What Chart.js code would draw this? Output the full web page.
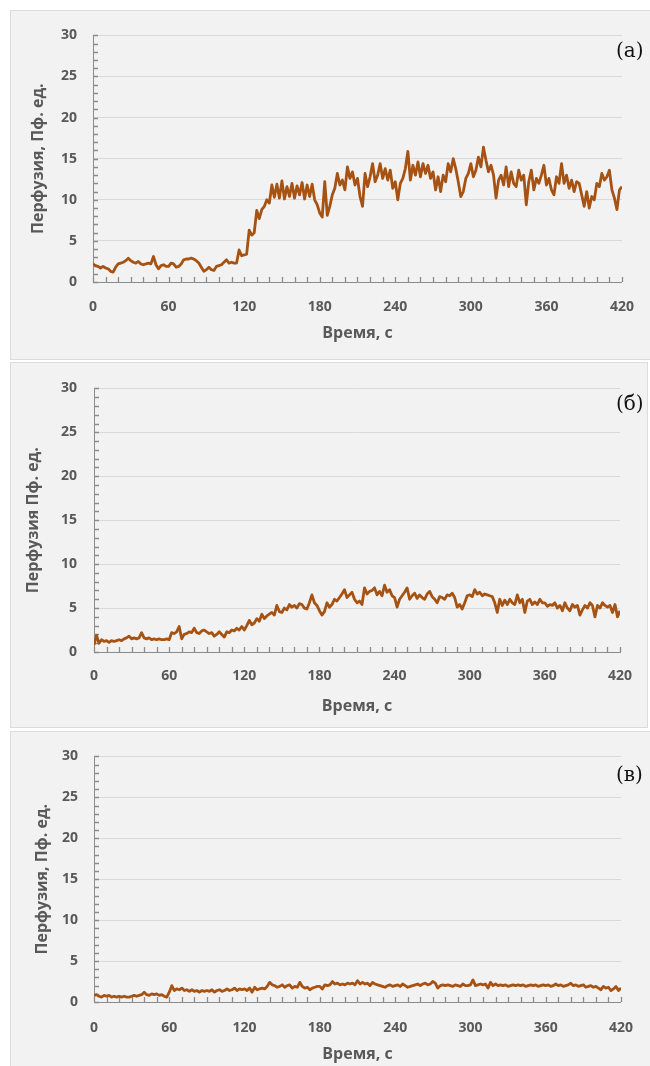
<!DOCTYPE html>
<html>
<head>
<meta charset="utf-8">
<script src="https://cdn.jsdelivr.net/npm/chart.js@4.4.1/dist/chart.umd.min.js"></script>
<style>
  body { margin: 0; background: #fff; width: 650px; height: 1066px; overflow: hidden; position: relative; }
  .panel { position: absolute; background: #f2f2f2; border: 1px solid #dcdcdc; box-sizing: border-box; }
  .panel canvas { position: absolute; left: 0; top: 0; }
  .tag { position: absolute; font-family: "DejaVu Serif", serif; font-size: 20px; line-height: 20px; color: #111; }
</style>
</head>
<body>
<div class="panel" style="left:10px;top:10px;width:642px;height:350px"><canvas id="ca" width="640" height="350"></canvas></div>
<div class="panel" style="left:10px;top:362px;width:638px;height:366px"><canvas id="cb" width="638" height="366"></canvas></div>
<div class="panel" style="left:10px;top:731px;width:642px;height:340px"><canvas id="cc" width="640" height="340"></canvas></div>
<span class="tag" style="left:616px;top:40px">(а)</span>
<span class="tag" style="left:616px;top:393px">(б)</span>
<span class="tag" style="left:616px;top:764px">(в)</span>
<script>
// time, s (one sample every 2 s)
const timeSec = [
  0, 2, 4, 6, 8, 10, 12, 14, 16, 18, 20, 22, 24, 26, 28, 30, 32, 34, 36, 38,
  40, 42, 44, 46, 48, 50, 52, 54, 56, 58, 60, 62, 64, 66, 68, 70, 72, 74, 76, 78,
  80, 82, 84, 86, 88, 90, 92, 94, 96, 98, 100, 102, 104, 106, 108, 110, 112, 114, 116, 118,
  120, 122, 124, 126, 128, 130, 132, 134, 136, 138, 140, 142, 144, 146, 148, 150, 152, 154, 156, 158,
  160, 162, 164, 166, 168, 170, 172, 174, 176, 178, 180, 182, 184, 186, 188, 190, 192, 194, 196, 198,
  200, 202, 204, 206, 208, 210, 212, 214, 216, 218, 220, 222, 224, 226, 228, 230, 232, 234, 236, 238,
  240, 242, 244, 246, 248, 250, 252, 254, 256, 258, 260, 262, 264, 266, 268, 270, 272, 274, 276, 278,
  280, 282, 284, 286, 288, 290, 292, 294, 296, 298, 300, 302, 304, 306, 308, 310, 312, 314, 316, 318,
  320, 322, 324, 326, 328, 330, 332, 334, 336, 338, 340, 342, 344, 346, 348, 350, 352, 354, 356, 358,
  360, 362, 364, 366, 368, 370, 372, 374, 376, 378, 380, 382, 384, 386, 388, 390, 392, 394, 396, 398,
  400, 402, 404, 406, 408, 410, 412, 414, 416, 418, 420
];

// perfusion, PU  (а)
const perfA = [
  2.2, 2.0, 1.9, 1.7, 1.9, 1.7, 1.6, 1.3, 1.2, 1.8,
  2.2, 2.3, 2.4, 2.6, 2.9, 2.6, 2.4, 2.3, 2.5, 2.2,
  2.1, 2.2, 2.3, 2.2, 3.1, 2.1, 1.6, 2.0, 2.1, 1.9,
  1.9, 2.3, 2.2, 1.8, 1.9, 2.2, 2.7, 2.8, 2.8, 2.9,
  2.8, 2.6, 2.3, 1.8, 1.3, 1.5, 1.8, 1.5, 1.4, 1.9,
  2.0, 2.1, 2.4, 2.7, 2.3, 2.4, 2.3, 2.3, 3.9, 3.2,
  3.3, 3.4, 6.3, 5.7, 6.0, 8.7, 7.7, 8.8, 9.2, 10.0,
  9.6, 11.8, 10.3, 11.9, 10.2, 12.3, 10.1, 11.6, 10.4, 12.0,
  10.2, 11.7, 10.6, 12.1, 10.1, 11.8, 10.4, 11.9, 10.0, 9.4,
  8.4, 7.9, 12.2, 8.1, 9.2, 10.6, 11.4, 13.2, 11.8, 12.4,
  11.2, 14.0, 12.6, 13.4, 11.8, 12.6, 10.4, 9.2, 13.2, 11.6,
  12.8, 14.4, 12.2, 13.0, 14.4, 12.6, 13.8, 12.4, 13.6, 11.4,
  12.2, 10.0, 12.0, 12.6, 13.8, 15.9, 12.4, 14.2, 13.0, 14.6,
  12.8, 14.4, 13.2, 14.2, 12.6, 13.4, 11.2, 12.8, 11.0, 13.0,
  12.2, 14.4, 13.4, 15.0, 13.8, 12.2, 10.4, 11.0, 12.6, 13.2,
  14.4, 12.8, 13.6, 15.2, 14.0, 16.4, 14.8, 13.4, 14.2, 13.0,
  10.2, 12.4, 13.0, 11.8, 14.0, 11.6, 13.4, 12.0, 11.6, 13.6,
  12.4, 13.0, 9.4, 12.2, 13.6, 11.2, 12.6, 12.0, 13.0, 14.2,
  11.8, 12.6, 11.2, 10.6, 12.8, 12.0, 14.4, 12.0, 13.0, 11.4,
  12.4, 11.0, 12.2, 12.0, 10.6, 9.2, 11.0, 9.0, 10.4, 10.0,
  12.0, 11.6, 13.2, 12.4, 12.8, 13.6, 11.2, 10.2, 8.8, 11.2,
  11.6
];
// (б)
const perfB = [
  0.8, 1.9, 1.0, 1.4, 1.2, 1.3, 1.1, 1.3, 1.2, 1.3,
  1.4, 1.3, 1.5, 1.6, 1.8, 1.5, 1.6, 1.5, 1.6, 2.2,
  1.6, 1.5, 1.6, 1.4, 1.5, 1.4, 1.5, 1.4, 1.4, 1.5,
  1.4, 2.2, 2.1, 2.3, 2.9, 1.5, 2.0, 2.1, 2.3, 2.2,
  2.7, 2.2, 2.1, 2.4, 2.5, 2.3, 2.1, 2.2, 1.8, 2.0,
  2.3, 2.0, 1.7, 2.3, 2.2, 2.5, 2.4, 2.7, 2.5, 2.9,
  2.5, 3.0, 3.6, 3.1, 3.3, 3.8, 3.5, 4.3, 3.8, 4.1,
  4.3, 4.5, 4.2, 5.3, 4.6, 4.5, 5.0, 4.8, 5.4, 5.1,
  5.3, 5.0, 5.5, 5.4, 5.0, 4.9, 5.6, 6.5, 5.6, 5.3,
  4.7, 4.2, 4.6, 5.6, 5.1, 5.4, 6.0, 5.8, 6.2, 6.6,
  7.1, 6.2, 6.5, 6.8, 6.0, 5.6, 5.8, 5.4, 7.3, 6.6,
  6.9, 7.0, 7.3, 6.5, 6.9, 6.4, 7.6, 6.8, 7.1, 6.4,
  6.2, 5.1, 6.0, 6.4, 6.8, 7.3, 6.0, 6.4, 6.7, 6.1,
  6.5, 6.2, 6.0, 6.6, 6.9, 6.3, 6.0, 5.6, 6.3, 6.2,
  6.0, 6.5, 6.4, 6.7, 6.2, 5.1, 5.4, 4.9, 5.6, 6.4,
  6.5, 6.3, 7.1, 6.6, 6.8, 6.4, 6.6, 6.5, 6.4, 6.3,
  5.6, 4.5, 6.0, 5.3, 5.9, 5.4, 6.0, 5.6, 5.4, 6.5,
  5.6, 6.0, 4.5, 5.8, 6.0, 5.4, 5.7, 5.4, 6.0, 5.6,
  5.6, 5.2, 5.4, 5.3, 5.6, 5.0, 5.3, 4.7, 5.6, 5.0,
  4.7, 5.4, 5.1, 5.3, 4.2, 4.8, 5.3, 5.0, 5.6, 5.3,
  4.0, 5.3, 5.0, 5.6, 5.3, 5.1, 5.3, 4.5, 5.4, 4.0,
  4.7
];
// (в)
const perfC = [
  0.8, 0.9, 0.7, 0.6, 0.8, 0.7, 0.8, 0.6, 0.7, 0.6,
  0.7, 0.6, 0.7, 0.6, 0.6, 0.7, 0.8, 0.7, 0.8, 0.9,
  1.2, 0.9, 0.8, 1.0, 0.9, 1.0, 0.8, 0.9, 0.7, 0.6,
  1.2, 2.0, 1.4, 1.6, 1.5, 1.7, 1.4, 1.5, 1.3, 1.5,
  1.3, 1.4, 1.2, 1.4, 1.3, 1.4, 1.3, 1.5, 1.2, 1.4,
  1.5, 1.3, 1.4, 1.6, 1.4, 1.5, 1.7, 1.4, 1.6, 1.5,
  1.6, 1.4, 1.7, 1.2, 1.8, 1.5, 1.6, 1.7, 1.6, 1.9,
  2.4, 2.1, 2.0, 1.8, 1.9, 2.1, 1.8, 2.0, 2.1, 1.7,
  1.9, 1.8, 2.4, 1.9, 1.7, 1.8, 1.5, 1.7, 1.8, 1.9,
  1.9, 1.6, 2.1, 2.0, 2.1, 2.5, 2.2, 2.3, 2.1, 2.2,
  2.1, 2.3, 2.2, 2.3, 2.1, 2.6, 2.2, 2.4, 2.2, 2.3,
  2.0, 2.4, 2.2, 2.1, 2.0, 1.9, 1.8, 2.0, 2.1, 1.9,
  2.0, 2.1, 1.9, 2.2, 2.0, 1.8, 1.9, 2.0, 2.1, 2.2,
  2.0, 2.2, 2.3, 2.1, 2.2, 2.5, 2.3, 1.7, 2.0, 2.1,
  2.0, 2.1, 2.0, 1.9, 2.1, 2.0, 1.9, 2.2, 2.0, 2.0,
  2.1, 2.7, 2.0, 2.1, 2.2, 2.1, 2.2, 1.7, 2.4, 2.0,
  2.2, 2.0, 2.1, 2.0, 2.1, 1.9, 2.0, 2.1, 2.0, 2.1,
  2.0, 2.1, 1.9, 2.0, 2.1, 2.0, 2.1, 1.9, 2.0, 2.1,
  2.0, 2.1, 1.9, 2.0, 2.2, 2.0, 2.1, 1.9, 2.0, 2.1,
  2.3, 2.0, 2.1, 1.9, 2.0, 2.1, 1.8, 1.9, 2.0, 1.8,
  1.9, 1.7, 1.5, 1.9, 1.7, 1.8, 1.4, 1.6, 1.9, 1.4,
  1.7
];

// minor tick positions (s and perfusion units)
const xMinorTicks = [
  0, 10, 20, 30, 40, 50, 60, 70, 80, 90, 100, 110, 120, 130, 140, 150, 160, 170, 180, 190, 200,
  210, 220, 230, 240, 250, 260, 270, 280, 290, 300, 310, 320, 330, 340, 350, 360, 370, 380, 390, 400, 410, 420
];
const yMinorTicks = [
  0, 1, 2, 3, 4, 5, 6, 7, 8, 9, 10, 11, 12, 13, 14, 15, 16, 17, 18, 19, 20,
  21, 22, 23, 24, 25, 26, 27, 28, 29, 30
];

const xTitle = "Время, с";
const lineColor = "#a65212";
const labelColor = "#595959";
const axisColor = "#8c8c8c";
const tickFont = { family: "'Open Sans', sans-serif", size: 14, weight: "bold" };
const titleFont = { family: "'Open Sans', sans-serif", size: 16, weight: "bold" };

// short tick marks pointing into the plot
const innerTicks = {
  id: "innerTicks",
  beforeDatasetsDraw(chart) {
    const { ctx, chartArea } = chart;
    const xs = chart.scales.x;
    const ys = chart.scales.y;
    ctx.save();
    ctx.strokeStyle = axisColor;
    ctx.lineWidth = 1.3;
    ctx.beginPath();
    xMinorTicks.forEach((v) => {
      const px = Math.round(xs.getPixelForValue(v)) + 0.5;
      ctx.moveTo(px, chartArea.bottom);
      ctx.lineTo(px, chartArea.bottom - 5);
    });
    yMinorTicks.forEach((v) => {
      const py = Math.round(ys.getPixelForValue(v)) + 0.5;
      ctx.moveTo(chartArea.left, py);
      ctx.lineTo(chartArea.left + 5, py);
    });
    ctx.stroke();
    ctx.restore();
  },
};

const drawPanel = ({ canvasId, values, yTitle, geo }) => {
  const points = timeSec.map((t, i) => ({ x: t, y: values[i] }));

  return new Chart(document.getElementById(canvasId), {
    type: "line",
    data: {
      datasets: [
        {
          data: points,
          borderColor: lineColor,
          borderWidth: 2.8,
          pointRadius: 0,
          tension: 0,
          borderJoinStyle: "round",
        },
      ],
    },
    options: {
      responsive: false,
      animation: false,
      devicePixelRatio: 1,
      layout: { padding: { left: 0, top: geo.top, right: geo.right, bottom: 0 } },
      plugins: { legend: { display: false }, tooltip: { enabled: false } },
      scales: {
        x: {
          type: "linear",
          min: 0,
          max: 420,
          afterFit: (scale) => { scale.height = geo.xHeight; },
          ticks: {
            stepSize: 60,
            autoSkip: false,
            maxRotation: 0,
            padding: geo.xPad,
            color: labelColor,
            font: tickFont,
          },
          grid: { drawOnChartArea: false, drawTicks: false },
          border: { color: axisColor },
          title: {
            display: true,
            text: xTitle,
            color: labelColor,
            font: titleFont,
            padding: { top: 0, bottom: geo.xTitlePad },
          },
        },
        y: {
          min: 0,
          max: 30,
          afterFit: (scale) => { scale.width = geo.yWidth; },
          ticks: {
            stepSize: 5,
            padding: geo.yPad,
            color: labelColor,
            font: tickFont,
          },
          grid: {
            drawTicks: false,
            color: (ctx) => (ctx.tick && ctx.tick.value !== 0 ? "#d9d9d9" : "rgba(0,0,0,0)"),
          },
          border: { color: axisColor },
          title: {
            display: true,
            text: yTitle,
            color: labelColor,
            font: titleFont,
            padding: { top: geo.yTitlePad, bottom: 0 },
          },
        },
      },
    },
    plugins: [innerTicks],
  });
};

drawPanel({
  canvasId: "ca",
  values: perfA,
  yTitle: "Перфузия, Пф. ед.",
  geo: { top: 19, right: 28, xHeight: 79, yWidth: 82, xPad: 17, yPad: 16, xTitlePad: 18, yTitlePad: 18 },
});
drawPanel({
  canvasId: "cb",
  values: perfB,
  yTitle: "Перфузия Пф. ед.",
  geo: { top: 17, right: 29, xHeight: 77, yWidth: 83, xPad: 16, yPad: 17, xTitlePad: 13, yTitlePad: 13 },
});
drawPanel({
  canvasId: "cc",
  values: perfC,
  yTitle: "Перфузия, Пф. ед.",
  geo: { top: 16, right: 28, xHeight: 70, yWidth: 83, xPad: 18, yPad: 16, xTitlePad: 8, yTitlePad: 22 },
});
</script>
</body>
</html>
